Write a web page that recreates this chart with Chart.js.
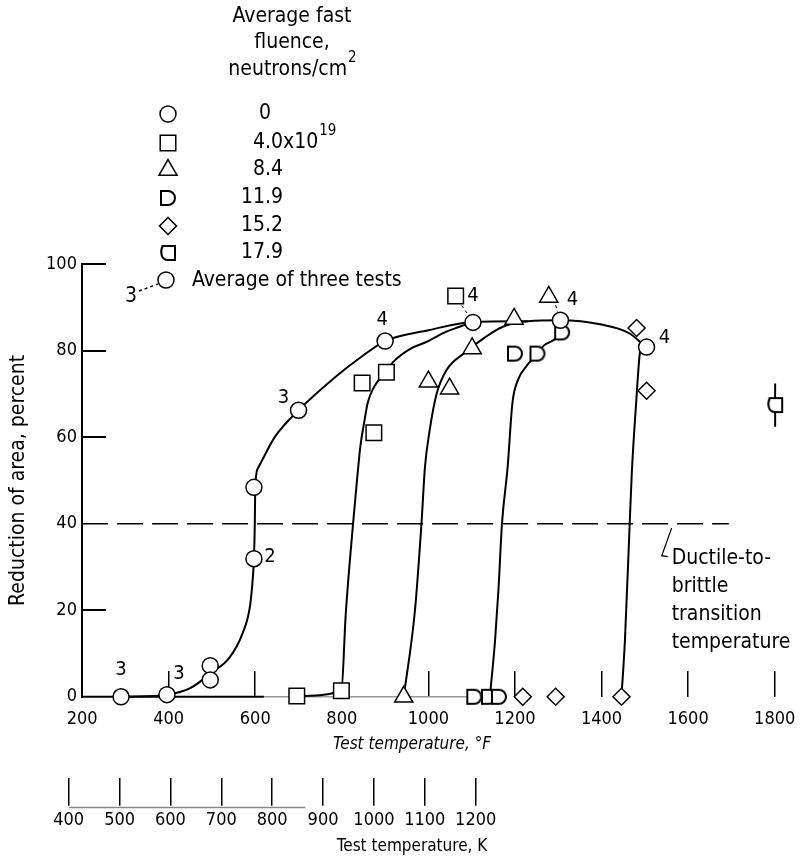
<!DOCTYPE html>
<html>
<head>
<meta charset="utf-8">
<script src="https://cdn.jsdelivr.net/npm/chart.js@4.4.0/dist/chart.umd.min.js"></script>
<style>
  html, body { margin: 0; padding: 0; background: #fff; }
</style>
</head>
<body>
<canvas id="chart" width="803" height="863"></canvas>
<script>
// ---- axis ticks ----
const fTicks = [200, 400, 600, 800, 1000, 1200, 1400, 1600, 1800];
const fTickMarks = [400, 600, 1000, 1200, 1400, 1600, 1800];
const kTicks = [400, 500, 600, 700, 800, 900, 1000, 1100, 1200];
const yTicks = [0, 20, 40, 60, 80, 100];

// ---- legend entries (average fast fluence, neutrons/cm2) ----
const fluenceText = ['0', '4.0x10', '8.4', '11.9', '15.2', '17.9'];
const fluenceSup = ['', '19', '', '', '', ''];

// ---- measured points [temperature F, reduction of area %] ----
const pts0 = [[290, 0], [396, 0.5], [496, 7.2], [496, 3.9], [597, 48.4], [597, 31.9], [700, 66.2],
              [900, 82.2], [1103, 86.5], [1305, 87], [1504, 80.8]];
const pts4 = [[696, 0.2], [799, 1.4], [847, 72.5], [874, 61], [903, 75], [1063, 92.6]];
const pts8 = [[943, 0], [1000, 72.8], [1049, 71.2], [1101, 80.5], [1198, 87.3], [1278, 92.4]];
const pts11 = [[1106, 0], [1140, 0], [1163, 0], [1200, 79.3], [1252, 79.3], [1309, 84.2]];
const pts15 = [[1218, 0], [1294, 0], [1446, 0], [1481, 85.2], [1504, 70.7]];
const pts17 = [[1801, 67.4]];
const err17 = [[1801, 62.4], [1801, 72.4]];

// ---- faired curves ----
const curve0 = [[290, 0], [396, 0.5], [450, 2], [498, 5.5], [540, 9], [570, 14.5], [588, 21], [594, 27],
                [597, 32], [599, 40], [600, 48.5], [607, 53], [645, 60], [700, 66.2], [790, 74.3],
                [843, 78.4], [900, 82.2], [1000, 84.7], [1103, 86.6], [1230, 86.8]];
const curve4 = [[696, 0.2], [799, 1.4], [809, 19], [826, 40], [835, 50], [843, 58], [851, 63], [860, 68],
                [874, 71.5], [900, 75], [920, 77.5], [960, 80.5], [996, 82], [1040, 84.3], [1072, 85.5], [1103, 86.6]];
const curve8 = [[943, 0], [969, 20], [984, 40], [992, 53], [1003, 61.6], [1019, 70], [1042, 75.5], [1084, 79.5],
                [1130, 83], [1172, 85.5], [1230, 86.8], [1305, 87], [1400, 86], [1464, 84], [1500, 81]];
const curve11 = [[1142, 0], [1154, 13], [1162, 25], [1170, 40], [1183, 53], [1194, 67.8], [1206, 73],
                 [1225, 76.2], [1252, 79.3], [1267, 81.2], [1289, 82.4], [1309, 84.2]];
const curve15 = [[1446, 0], [1454, 13], [1465, 40], [1470, 52], [1480, 68], [1488, 79], [1493, 81]];

const transition = [[200, 40], [1694, 40]];
const leaderA = [[1077, 90.4], [1093, 88.1]];
const leaderB = [[1294, 90.5], [1298, 89]];
const noteLeader = [[1562, 39], [1539, 32.6], [1553, 32.4]];
const fAxisDark = [[200, 0], [620, 0]];
const fAxisLight = [[620, 0], [1175, 0]];
const kAxisLine = [[400, -25.6], [865, -25.6]];

// number of tests next to points
const countX = [290, 396, 597, 700, 900, 1103, 1305, 1504];
const countY = [0, 0.5, 31.9, 66.2, 82.2, 86.5, 87, 80.8];
const countText = ['3', '3', '2', '3', '4', '4', '4', '4'];
const countDx = [0, 12, 16, -15, -3, 0, 12, 18];
const countDy = [-27, -21, -2, -12, -21, -27, -20, -9];

const noteAt = [1562, 32];
const noteLines = ['Ductile-to-', 'brittle', 'transition', 'temperature'];

// ---- axis ranges (to line up the two temperature scales) ----
const F_MIN = 88, F_MAX = 1836.5;
const K_MIN = 331, K_MAX = 1818.8;

const FONT = "'DejaVu Sans Condensed', 'DejaVu Sans', sans-serif";
Chart.defaults.font.family = FONT;
Chart.defaults.font.size = 18;
Chart.defaults.color = '#000';

function shapeD(flip) {
  const c = document.createElement('canvas');
  c.width = 20; c.height = 20;
  const g = c.getContext('2d');
  g.lineWidth = 2; g.strokeStyle = '#000'; g.fillStyle = '#fff';
  g.beginPath();
  if (!flip) {
    g.moveTo(3, 3); g.lineTo(10, 3);
    g.arc(10, 10, 7, -Math.PI / 2, Math.PI / 2);
    g.lineTo(3, 17);
  } else {
    g.moveTo(17, 3); g.lineTo(4.5, 3);
    g.bezierCurveTo(2, 9, 3, 17, 10, 17);
    g.lineTo(17, 17);
  }
  g.closePath(); g.fill(); g.stroke();
  return c;
}

const markerStyles = ['circle', 'rect', 'triangle', shapeD(false), 'rectRot', shapeD(true)];
const markerRadius = [8, 11, 10.5, 9, 8.5, 9];
const seriesPts = [pts0, pts4, pts8, pts11, pts15, pts17];

const xy = a => a.map(p => ({x: p[0], y: p[1]}));

const pointSet = (pts, i) => ({
  data: xy(pts), showLine: false, pointStyle: markerStyles[i], pointRadius: markerRadius[i],
  pointBackgroundColor: '#fff', pointBorderColor: '#000', pointBorderWidth: 1.5, order: 0, clip: false
});
const curveSet = c => ({
  data: xy(c), borderColor: '#000', borderWidth: 2, pointRadius: 0, fill: false,
  cubicInterpolationMode: 'monotone', tension: 0.4, order: 1, clip: false
});
const plainSet = (c, opts) => Object.assign({
  data: xy(c), borderColor: '#000', borderWidth: 1.5, pointRadius: 0, fill: false, tension: 0, order: 2, clip: false
}, opts);

const setTicks = list => scale => { scale.ticks = list.map(v => ({value: v})); };
const plain = v => String(v);

const annotations = {
  id: 'annotations',
  afterDatasetsDraw(chart) {
    const {ctx, scales: {x, y}} = chart;
    ctx.save();
    ctx.fillStyle = '#000';
    ctx.font = '20px ' + FONT;
    ctx.textAlign = 'center';
    ctx.textBaseline = 'middle';
    countText.forEach((t, i) => {
      ctx.fillText(t, x.getPixelForValue(countX[i]) + countDx[i], y.getPixelForValue(countY[i]) + countDy[i]);
    });
    ctx.font = '21px ' + FONT;
    ctx.textAlign = 'left';
    const nx = x.getPixelForValue(noteAt[0]), ny = y.getPixelForValue(noteAt[1]);
    noteLines.forEach((t, i) => ctx.fillText(t, nx, ny + i * 28));
    ctx.restore();
  },
  afterDraw(chart) {
    const ctx = chart.ctx;
    ctx.save();
    ctx.fillStyle = '#000';
    ctx.textBaseline = 'middle';
    ctx.textAlign = 'center';
    ctx.font = '21px ' + FONT;
    ctx.fillText('Average fast', 292, 17);
    ctx.fillText('fluence,', 292, 43);
    const w1 = ctx.measureText('neutrons/cm').width;
    ctx.font = '15px ' + FONT;
    const w2 = ctx.measureText('2').width;
    const sx = 292 - (w1 + w2) / 2;
    ctx.textAlign = 'left';
    ctx.font = '21px ' + FONT;
    ctx.fillText('neutrons/cm', sx, 70);
    ctx.font = '15px ' + FONT;
    ctx.fillText('2', sx + w1 + 1, 58);

    const rowY = [114, 143, 170, 198, 226, 253];
    const dot = 265;
    fluenceText.forEach((t, i) => {
      ctx.save();
      ctx.fillStyle = '#fff'; ctx.strokeStyle = '#000'; ctx.lineWidth = 1.5;
      Chart.helpers.drawPoint(ctx, {pointStyle: markerStyles[i], radius: markerRadius[i], rotation: 0, borderWidth: 1.5}, 168, rowY[i]);
      ctx.restore();
      ctx.font = '21px ' + FONT;
      let end;
      if (t.indexOf('.') < 0) {
        ctx.textAlign = 'center';
        ctx.fillText(t, dot, rowY[i]);
        end = dot + ctx.measureText(t).width / 2;
      } else {
        const k = t.indexOf('.');
        ctx.textAlign = 'right';
        ctx.fillText(t.slice(0, k), dot, rowY[i]);
        ctx.textAlign = 'left';
        ctx.fillText(t.slice(k), dot, rowY[i]);
        end = dot + ctx.measureText(t.slice(k)).width;
      }
      if (fluenceSup[i]) {
        ctx.textAlign = 'left';
        ctx.font = '15px ' + FONT;
        ctx.fillText(fluenceSup[i], end + 1, rowY[i] - 12);
      }
    });

    ctx.save();
    ctx.fillStyle = '#fff'; ctx.strokeStyle = '#000'; ctx.lineWidth = 1.5;
    Chart.helpers.drawPoint(ctx, {pointStyle: 'circle', radius: 8, rotation: 0, borderWidth: 1.5}, 166, 280);
    ctx.beginPath();
    ctx.setLineDash([3, 3]);
    ctx.moveTo(139, 291); ctx.lineTo(158, 284);
    ctx.stroke();
    ctx.restore();
    ctx.font = '21px ' + FONT;
    ctx.textAlign = 'left';
    ctx.fillText('Average of three tests', 192, 281);
    ctx.textAlign = 'center';
    ctx.fillText('3', 131, 297);
    ctx.restore();
  }
};

new Chart(document.getElementById('chart'), {
  type: 'line',
  data: {
    datasets: [
      ...seriesPts.map(pointSet),
      curveSet(curve0), curveSet(curve4), curveSet(curve8), curveSet(curve11), curveSet(curve15),
      plainSet(err17, {borderWidth: 2, order: 1}),
      plainSet(transition, {borderDash: [26, 9]}),
      plainSet(leaderA, {borderDash: [3, 3], borderWidth: 1}),
      plainSet(leaderB, {borderDash: [3, 3], borderWidth: 1}),
      plainSet(noteLeader, {borderWidth: 1.2}),
      plainSet(fAxisDark, {borderWidth: 2}),
      plainSet(fAxisLight, {borderColor: '#999', borderWidth: 1.5}),
      plainSet(kAxisLine, {xAxisID: 'xK', borderColor: '#888', borderWidth: 1.5})
    ]
  },
  options: {
    responsive: false,
    animation: false,
    events: [],
    layout: { padding: { left: 0, right: 6, top: 264, bottom: 2.8 } },
    plugins: { legend: { display: false }, tooltip: { enabled: false } },
    scales: {
      x: {
        type: 'linear', position: 'bottom', weight: 0, min: F_MIN, max: F_MAX,
        afterBuildTicks: setTicks(fTicks),
        grid: { display: false, drawTicks: false },
        border: { display: false },
        ticks: { padding: 0, autoSkip: false, maxRotation: 0, callback: plain, font: { size: 18, lineHeight: 2.5 } },
        title: { display: true, text: 'Test temperature, °F', font: { size: 17, style: 'italic' },
                 padding: { top: -7.2, bottom: 22.8 } }
      },
      xK: {
        type: 'linear', axis: 'x', position: 'bottom', weight: 1, min: K_MIN, max: K_MAX,
        afterBuildTicks: setTicks(kTicks),
        grid: { display: true, drawOnChartArea: false, drawTicks: true, tickLength: 28, color: '#000', lineWidth: 1.5 },
        border: { display: false },
        ticks: { padding: 4.2, autoSkip: false, maxRotation: 0, callback: plain },
        title: { display: true, text: 'Test temperature, K', font: { size: 17 },
                 padding: { top: 1, bottom: 3 } }
      },
      xT: {
        type: 'linear', axis: 'x', position: { y: 0 }, min: F_MIN, max: F_MAX,
        afterBuildTicks: setTicks(fTickMarks),
        grid: { display: true, drawOnChartArea: false, drawTicks: true, tickLength: -26, color: '#000', lineWidth: 1.5 },
        border: { display: false },
        ticks: { display: false }
      },
      y: {
        type: 'linear', position: { x: 200 }, min: 0, max: 100,
        afterBuildTicks: setTicks(yTicks),
        grid: { display: true, drawOnChartArea: false, drawTicks: true, tickLength: -25, lineWidth: 2,
                color: c => (c.tick && (c.tick.value === 0 || c.tick.value === 40)) ? 'rgba(0,0,0,0)' : '#000' },
        border: { display: true, color: '#000', width: 2 },
        ticks: { padding: 6, autoSkip: false, callback: v => v + ' ' }
      },
      yT: {
        type: 'linear', axis: 'y', position: 'left', min: 0, max: 100,
        grid: { display: false, drawTicks: false },
        border: { display: false },
        ticks: { display: false },
        title: { display: true, text: 'Reduction of area, percent', font: { size: 21 },
                 padding: { top: 6.4, bottom: 2 } }
      }
    }
  },
  plugins: [annotations]
});
</script>
</body>
</html>
